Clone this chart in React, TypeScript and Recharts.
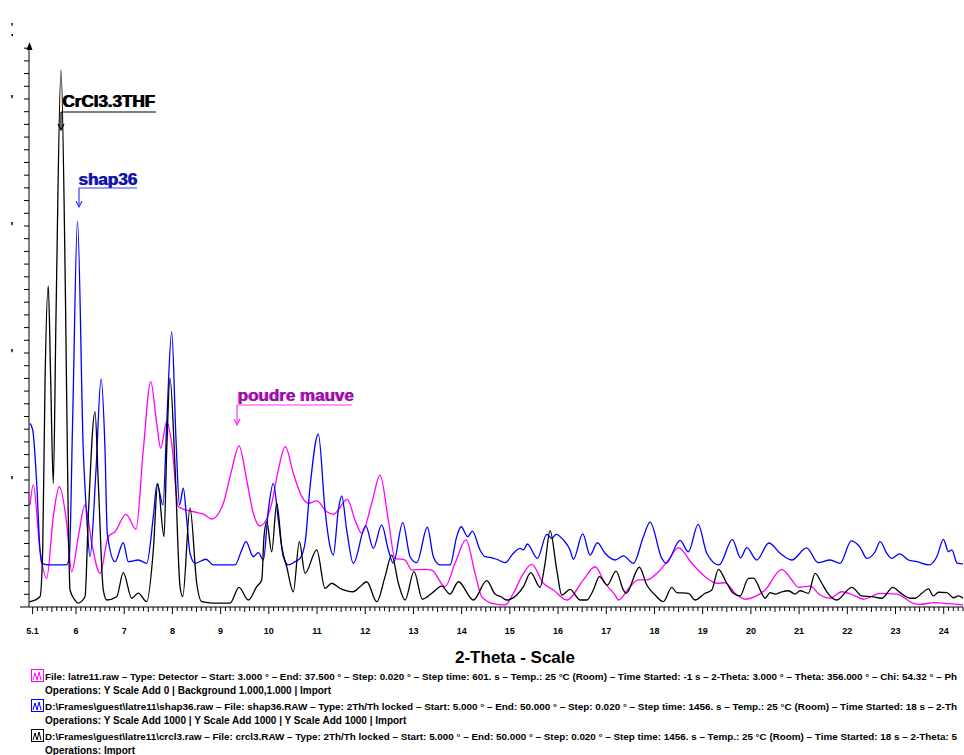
import { LineChart, Line, XAxis, YAxis } from 'recharts';

// values: [2-theta (deg), counts]
const crcl3: [number, number][] = [
  [5.035, 40], [5.253, 81], [5.309, 449], [5.357, 1761], [5.425, 2528], [5.475, 1787], [5.529, 974],
  [5.585, 2286], [5.689, 4228], [5.782, 2417], [5.834, 843], [5.876, 134], [5.979, 55], [6.041, 31],
  [6.187, 81], [6.255, 711], [6.394, 1538], [6.463, 974], [6.566, 134], [6.637, 55], [6.844, 81],
  [6.981, 270], [7.156, 69], [7.293, 110], [7.467, 42], [7.604, 449], [7.695, 974], [7.826, 554],
  [7.882, 1236], [7.95, 1801], [8.054, 1105], [8.158, 160], [8.214, 81], [8.365, 780], [8.504, 187],
  [8.608, 42], [8.842, 31], [9.195, 31], [9.382, 155], [9.575, 55], [9.749, 160], [9.853, 213],
  [9.9, 554], [9.957, 672], [10.06, 435], [10.164, 817], [10.268, 475], [10.371, 317], [10.508, 120],
  [10.633, 514], [10.751, 265], [10.994, 449], [11.166, 147], [11.305, 187], [11.477, 147], [11.747, 120],
  [11.892, 160], [12.031, 199], [12.239, 42], [12.411, 239], [12.55, 409], [12.687, 187], [12.826, 55],
  [13.012, 278], [13.185, 61], [13.38, 108], [13.587, 165], [13.759, 102], [13.932, 199], [14.243, 55],
  [14.521, 207], [14.693, 102], [14.817, 81], [14.936, 55], [15.143, 94], [15.28, 160], [15.434, 270],
  [15.627, 155], [15.73, 344], [15.834, 601], [15.973, 291], [16.077, 94], [16.249, 139], [16.456, 55],
  [16.596, 55], [16.732, 134], [16.857, 239], [17.023, 173], [17.203, 283], [17.355, 134], [17.411, 108],
  [17.687, 313], [17.84, 173], [18.013, 94], [18.185, 42], [18.359, 155], [18.463, 113], [18.703, 108],
  [18.842, 55], [19.05, 108], [19.189, 134], [19.326, 297], [19.5, 187], [19.637, 108], [19.776, 87],
  [19.948, 226], [20.052, 228], [20.226, 108], [20.295, 69], [20.398, 113], [20.502, 102], [20.641, 120],
  [20.778, 128], [20.917, 102], [21.021, 128], [21.193, 108], [21.332, 265], [21.471, 187], [21.575, 120],
  [21.782, 55], [22.093, 155], [22.301, 87], [22.508, 81], [22.716, 69], [22.944, 155], [23.096, 113],
  [23.303, 69], [23.407, 69], [23.546, 108], [23.683, 142], [23.787, 87], [23.89, 116], [24.064, 113],
  [24.201, 73], [24.305, 87], [24.403, 69],
];

const shap36: [number, number][] = [
  [5.046, 1446], [5.102, 1394], [5.185, 974], [5.253, 449], [5.288, 344], [5.461, 331], [5.807, 331],
  [5.861, 396], [5.932, 1498], [6.031, 3039], [6.151, 1236], [6.222, 711], [6.29, 396], [6.415, 1079],
  [6.519, 1795], [6.602, 1236], [6.649, 580], [6.809, 357], [6.981, 506], [7.085, 357], [7.293, 370],
  [7.467, 344], [7.604, 711], [7.681, 969], [7.805, 803], [7.882, 1446], [7.985, 2168], [8.075, 1315],
  [8.147, 803], [8.226, 935], [8.297, 685], [8.365, 423], [8.469, 344], [8.697, 376], [8.849, 331],
  [9.299, 331], [9.438, 449], [9.527, 514], [9.678, 396], [9.782, 428], [9.886, 370], [9.99, 764],
  [10.093, 974], [10.197, 685], [10.301, 396], [10.405, 331], [10.544, 357], [10.647, 383], [10.751, 502],
  [10.855, 947], [11.027, 1360], [11.166, 764], [11.27, 475], [11.338, 409], [11.442, 764], [11.512, 874],
  [11.616, 606], [11.753, 344], [12.01, 638], [12.168, 462], [12.342, 646], [12.479, 449], [12.583, 344],
  [12.778, 664], [12.93, 396], [13.069, 349], [13.289, 628], [13.413, 396], [13.552, 331], [13.759, 331],
  [13.898, 554], [13.988, 632], [14.127, 554], [14.222, 598], [14.382, 449], [14.486, 396], [14.589, 391],
  [14.728, 376], [14.9, 349], [15.073, 423], [15.212, 462], [15.28, 449], [15.363, 496], [15.571, 383],
  [15.766, 572], [15.869, 541], [15.959, 572], [16.11, 528], [16.249, 449], [16.318, 376], [16.512, 575],
  [16.664, 409], [16.815, 506], [16.975, 423], [17.183, 370], [17.355, 402], [17.563, 344], [17.77, 554],
  [17.909, 669], [18.152, 383], [18.241, 344], [18.531, 524], [18.703, 435], [18.905, 650], [19.085, 423],
  [19.34, 331], [19.616, 531], [19.786, 387], [19.915, 467], [20.122, 370], [20.372, 504], [20.606, 423],
  [20.849, 370], [21.156, 465], [21.394, 349], [21.643, 370], [21.851, 344], [22.083, 521], [22.266, 470],
  [22.405, 383], [22.577, 435], [22.681, 514], [22.819, 423], [22.924, 383], [23.085, 419], [23.268, 370],
  [23.442, 357], [23.697, 331], [23.857, 396], [23.994, 533], [24.098, 435], [24.168, 449], [24.278, 346],
  [24.403, 339],
];

const poudreMauve: [number, number][] = [
  [5.046, 803], [5.114, 961], [5.253, 449], [5.392, 226], [5.529, 711], [5.654, 947], [5.807, 659],
  [5.911, 278], [6.048, 554], [6.187, 803], [6.326, 502], [6.498, 265], [6.67, 554], [6.809, 593],
  [7.037, 730], [7.245, 612], [7.396, 1236], [7.55, 1774], [7.674, 1446], [7.757, 1250], [7.882, 1459],
  [7.985, 1289], [8.122, 790], [8.434, 750], [8.641, 732], [8.815, 693], [9.056, 817], [9.23, 1079],
  [9.382, 1268], [9.541, 1000], [9.678, 738], [9.817, 638], [10.06, 817], [10.197, 1079], [10.342, 1262],
  [10.508, 1053], [10.683, 869], [10.82, 817], [10.994, 835], [11.201, 750], [11.338, 730], [11.629, 848],
  [11.788, 685], [11.927, 580], [12.135, 817], [12.307, 1039], [12.479, 685], [12.618, 383], [12.826, 370],
  [12.965, 291], [13.241, 297], [13.38, 291], [13.656, 160], [13.863, 344], [14.091, 528], [14.278, 265],
  [14.417, 81], [14.625, 29], [14.9, 16], [15.073, 108], [15.28, 265], [15.454, 336], [15.695, 187],
  [15.903, 134], [16.181, 55], [16.525, 213], [16.768, 317], [16.975, 187], [17.183, 94], [17.251, 55],
  [17.494, 160], [17.666, 213], [17.84, 213], [18.081, 278], [18.289, 370], [18.496, 467], [18.774, 344],
  [19.05, 239], [19.293, 187], [19.465, 191], [19.672, 108], [19.88, 61], [20.087, 81], [20.295, 134],
  [20.641, 297], [20.849, 213], [20.986, 155], [21.229, 165], [21.436, 94], [21.643, 69], [21.886, 120],
  [22.162, 87], [22.334, 61], [22.681, 108], [23.027, 102], [23.372, 29], [23.511, 21], [23.787, 34],
  [24.168, 24], [24.403, 16],
];

const xTickLabels = [5.1, 6, 7, 8, 9, 10, 11, 12, 13, 14, 15, 16, 17, 18, 19, 20, 21, 22, 23, 24];
const yMajorTicks = [1000, 2000, 3000, 4000];

// scan descriptions, as far as they are visible before the right edge
const legendRows = [
  {
    color: '#ff00ff',
    text: 'File: latre11.raw – Type: Detector – Start: 3.000 ° – End: 37.500 ° – Step: 0.020 ° – Step time: 601. s – Temp.: 25 °C (Room) – Time Started: -1 s – 2-Theta: 3.000 ° – Theta: 356.000 ° – Chi: 54.32 ° – Ph',
    ops: 'Operations: Y Scale Add 0 | Background 1.000,1.000 | Import',
  },
  {
    color: '#0000ff',
    text: 'D:\\Frames\\guest\\latre11\\shap36.raw – File: shap36.RAW – Type: 2Th/Th locked – Start: 5.000 ° – End: 50.000 ° – Step: 0.020 ° – Step time: 1456. s – Temp.: 25 °C (Room) – Time Started: 18 s – 2-Th',
    ops: 'Operations: Y Scale Add 1000 | Y Scale Add 1000 | Y Scale Add 1000 | Import',
  },
  {
    color: '#000000',
    text: 'D:\\Frames\\guest\\latre11\\crcl3.raw – File: crcl3.RAW – Type: 2Th/Th locked – Start: 5.000 ° – End: 50.000 ° – Step: 0.020 ° – Step time: 1456. s – Temp.: 25 °C (Room) – Time Started: 18 s – 2-Theta: 5',
    ops: 'Operations: Import',
  },
];

const FONT = "'Liberation Sans', Arial, Helvetica, sans-serif";
const W = 964;
const H = 755;

const toPoints = (rows: [number, number][]) => rows.map(([x, y]) => ({ x, y }));

// 0.1 degree minor ticks across the axis
const xTicks: number[] = [];
for (let i = 51; i <= 244; i++) xTicks.push(i / 10);
const yTicks: number[] = [];
for (let i = 1; i <= 44; i++) yTicks.push(i * 100);

const XTick = (props: any) => {
  const { x, y, payload } = props;
  const v = payload.value;
  const labeled = xTickLabels.some((l) => Math.abs(l - v) < 1e-6);
  const half = Math.abs(v * 2 - Math.round(v * 2)) < 1e-6;
  const len = labeled ? 7 : half ? 5 : 4;
  return (
    <g>
      <line x1={x} x2={x} y1={y} y2={y + len} stroke="#000" strokeWidth={1} />
      {labeled && (
        <text x={x} y={y + 27} textAnchor="middle" fontSize={9} fontWeight="bold" fontFamily={FONT} fill="#000">
          {String(v)}
        </text>
      )}
    </g>
  );
};

const YTick = (props: any) => {
  const { x, y, payload } = props;
  const major = yMajorTicks.includes(payload.value);
  return (
    <g>
      <line x1={x - 5} x2={x} y1={y} y2={y} stroke="#000" strokeWidth={1} />
      {major && (
        <text x={12} y={y + 5} textAnchor="middle" fontSize={12} fontWeight="bold" fontFamily={FONT} fill="#000">
          '
        </text>
      )}
    </g>
  );
};

const annotations = [
  { text: 'CrCl3.3THF', x: 63, y: 107, x1: 61, x2: 156, ly: 112, ay: 130, light: '#000000', dark: '#000000' },
  { text: 'shap36', x: 79, y: 185, x1: 79, x2: 137, ly: 188, ay: 207, light: '#3a3aff', dark: '#12129a' },
  { text: 'poudre mauve', x: 238, y: 401, x1: 237, x2: 352, ly: 405, ay: 425, light: '#ff30ff', dark: '#86159a' },
];

export default function App() {
  return (
    <div style={{ position: 'absolute', left: 0, top: 0, width: W, height: H, background: '#fff', overflow: 'hidden' }}>
      <LineChart width={W} height={H} margin={{ top: 45, right: 1, bottom: 0, left: 9 }}>
        <XAxis
          type="number"
          dataKey="x"
          domain={[5.025, 24.4]}
          allowDataOverflow
          ticks={xTicks}
          interval={0}
          height={148}
          tickSize={0}
          tickMargin={0}
          tickLine={false}
          tick={<XTick />}
          axisLine={{ stroke: '#000', strokeWidth: 1 }}
        />
        <YAxis
          type="number"
          domain={[0, 4425]}
          allowDataOverflow
          ticks={yTicks}
          interval={0}
          width={20}
          tickSize={0}
          tickMargin={0}
          tickLine={false}
          tick={<YTick />}
          axisLine={{ stroke: '#000', strokeWidth: 1 }}
        />
        <Line data={toPoints(poudreMauve)} dataKey="y" type="monotone" stroke="#ff00ff" strokeWidth={1.3} dot={false} isAnimationActive={false} />
        <Line data={toPoints(shap36)} dataKey="y" type="monotone" stroke="#0000ff" strokeWidth={1.3} dot={false} isAnimationActive={false} />
        <Line data={toPoints(crcl3)} dataKey="y" type="monotone" stroke="#000000" strokeWidth={1.3} dot={false} isAnimationActive={false} />
      </LineChart>

      <svg width={W} height={H} style={{ position: 'absolute', left: 0, top: 0, pointerEvents: 'none' }}>
        {/* stray marks at the top left, axis arrow and axis stub */}
        <text x={12} y={31} textAnchor="middle" fontSize={11} fontWeight="bold" fontFamily={FONT}>'</text>
        <rect x={11.5} y={34} width={1.5} height={2} fill="#000" />
        <polygon points="29.5,42 26.5,50 32.5,50" fill="#000" />
        <line x1={20} x2={29} y1={607} y2={607} stroke="#000" strokeWidth={1} />

        {annotations.map((a) => (
          <g key={a.text}>
            <text x={a.x - 1} y={a.y} fontSize={17} fontWeight="bold" fontFamily={FONT} fill={a.light}>{a.text}</text>
            <text x={a.x} y={a.y} fontSize={17} fontWeight="bold" fontFamily={FONT} fill={a.dark}>{a.text}</text>
            <line x1={a.x1} x2={a.x2} y1={a.ly} y2={a.ly} stroke={a.light} strokeWidth={1.2} />
            <line x1={a.x1} x2={a.x1} y1={a.ly} y2={a.ay} stroke={a.light} strokeWidth={1.2} />
            <polyline points={`${a.x1 - 3},${a.ay - 6} ${a.x1},${a.ay} ${a.x1 + 3},${a.ay - 6}`} fill="none" stroke={a.light} strokeWidth={1.2} />
          </g>
        ))}

        <text x={515} y={663} textAnchor="middle" fontSize={17} fontWeight="bold" fontFamily={FONT} fill="#000">
          2-Theta - Scale
        </text>

        {legendRows.map((r, i) => {
          const cy = 676 + i * 30;
          return (
            <g key={i}>
              <rect x={31.5} y={cy - 6.5} width={12} height={12} fill="#fff" stroke={r.color} strokeWidth={1} />
              <polyline
                points={`${33},${cy + 4} ${35},${cy - 3} ${37},${cy + 4} ${39},${cy - 4} ${41},${cy + 4}`}
                fill="none"
                stroke={r.color}
                strokeWidth={1}
              />
              <text x={45} y={cy + 4} fontSize={9.7} fontWeight="bold" fontFamily={FONT} fill="#000" textLength={912} lengthAdjust="spacingAndGlyphs">
                {r.text}
              </text>
              <text x={45} y={cy + 18} fontSize={10} fontWeight="bold" fontFamily={FONT} fill="#000">{r.ops}</text>
            </g>
          );
        })}
      </svg>
    </div>
  );
}
